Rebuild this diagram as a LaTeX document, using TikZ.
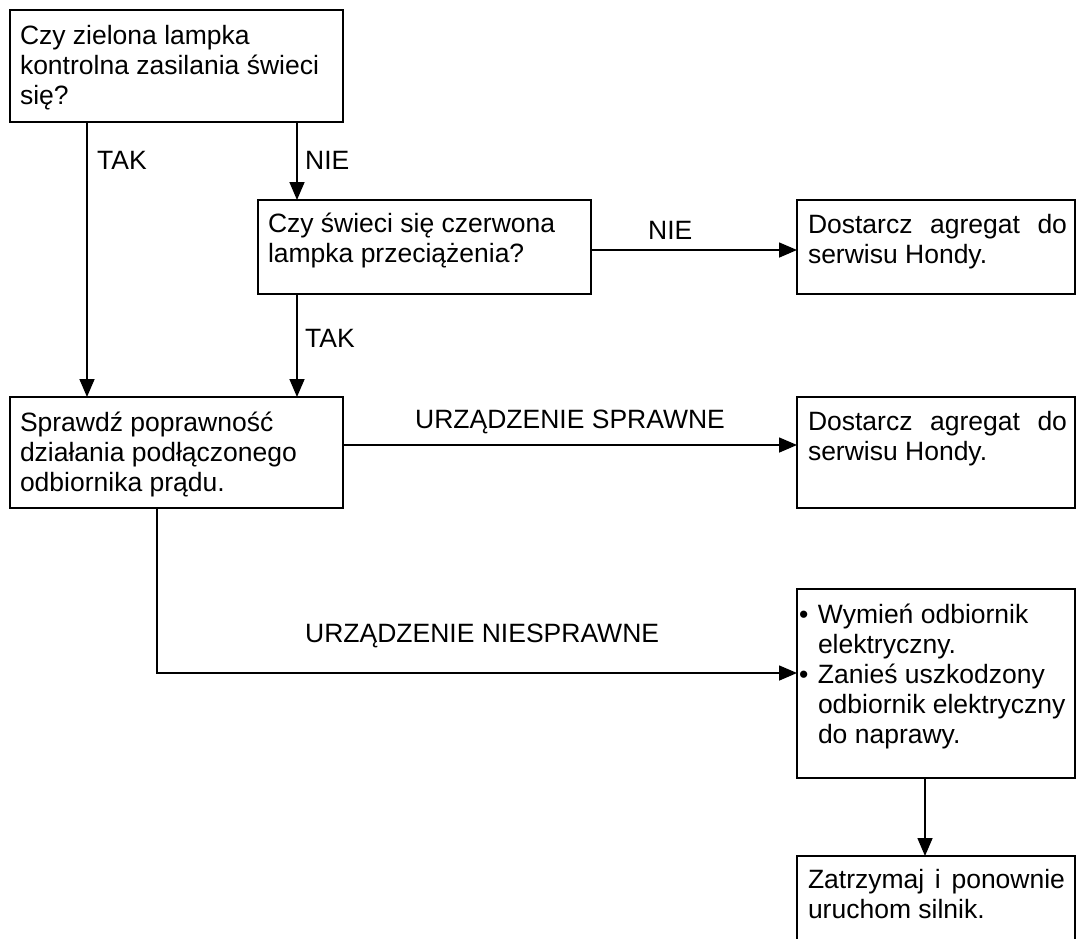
\documentclass[tikz,border=0pt]{standalone}
\usepackage{fontspec}
\setmainfont{Liberation Sans}
\usetikzlibrary{arrows.meta}
% width, height, left pad, first baseline, text
\newcommand\bx[5]{\parbox[t][#2pt][t]{#1pt}{\fontsize{26.5pt}{30pt}\selectfont\leftskip=#3pt\relax\parindent=0pt\rule{0pt}{#4pt}#5\par}}
\newcommand\bul{\llap{•\hspace{9.5pt}}}
\tikzset{
  flowbox/.style={draw, line width=1.8pt, inner sep=0pt, outer sep=0pt, anchor=north west},
  lab/.style={font=\fontsize{26.5pt}{30pt}\selectfont, inner sep=0pt, anchor=base west},
  arr/.style={-{Triangle[length=18pt,width=15pt]}, line width=1.6pt}
}
\begin{document}
\begin{tikzpicture}[x=1pt,y=-1pt]
\useasboundingbox (0,0) rectangle (1076,938);
\fill[white] (0,0) rectangle (1076,938);
\clip (0,0) rectangle (1076,938);
% boxes
\node[flowbox] (b1) at (10,10) {\bx{333}{112}{10}{34}{Czy zielona lampka\\kontrolna zasilania świeci\\się?}};
\node[flowbox] (b2) at (258,200) {\bx{333}{94}{10}{32}{Czy świeci się czerwona\\lampka przeciążenia?}};
\node[flowbox] (b3) at (797,200) {\bx{278}{94}{11}{33}{\makebox[259pt][s]{Dostarcz agregat do}\\serwisu Hondy.}};
\node[flowbox] (b4) at (10,397) {\bx{333}{111}{10}{34}{Sprawdź poprawność\\działania podłączonego\\odbiornika prądu.}};
\node[flowbox] (b5) at (797,397) {\bx{278}{111}{11}{33}{\makebox[259pt][s]{Dostarcz agregat do}\\serwisu Hondy.}};
\node[flowbox] (b6) at (797,589) {\bx{278}{189}{21}{34}{\bul Wymień odbiornik\\elektryczny.\\\bul Zanieś uszkodzony\\odbiornik elektryczny\\do naprawy.}};
\node[flowbox] (b7) at (797,856) {\bx{278}{110}{11}{32}{\makebox[257pt][s]{Zatrzymaj i ponownie}\\uruchom silnik.}};
% helper coordinates
\coordinate (cx1) at (87,0);
\coordinate (cx2) at (297,0);
\coordinate (cx3) at (157,0);
\coordinate (cx4) at (925,0);
\coordinate (cy1) at (0,250);
\coordinate (cy2) at (0,445);
\coordinate (cy3) at (0,673);
% connectors
\draw[arr] (b1.south -| cx1) -- (b4.north -| cx1);
\draw[arr] (b1.south -| cx2) -- (b2.north -| cx2);
\draw[arr] (b2.south -| cx2) -- (b4.north -| cx2);
\draw[arr] (b2.east |- cy1) -- (b3.west |- cy1);
\draw[arr] (b4.east |- cy2) -- (b5.west |- cy2);
\draw[arr] (b4.south -| cx3) |- (b6.west |- cy3);
\draw[arr] (b6.south -| cx4) -- (b7.north -| cx4);
% labels
\node[lab] (l1) at (97,169) {TAK};
\node[lab] (l2) at (305,169) {NIE};
\node[lab] (l3) at (648,239) {NIE};
\node[lab] (l4) at (305,347) {TAK};
\node[lab] (l5) at (415,428) {URZĄDZENIE SPRAWNE};
\node[lab] (l6) at (305,642) {URZĄDZENIE NIESPRAWNE};
\end{tikzpicture}
\end{document}
